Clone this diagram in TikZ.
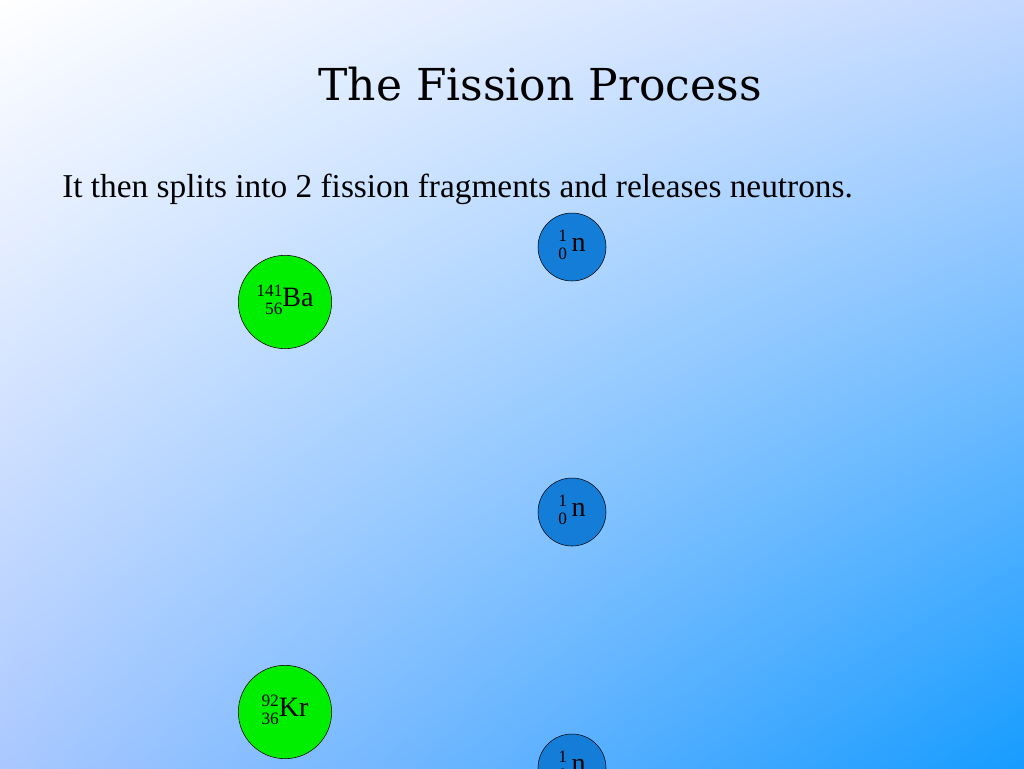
\documentclass[tikz,border=0pt]{standalone}
\usepackage{fontspec}
\setmainfont{Liberation Serif}
\newfontfamily\titlefont{DejaVu Serif}
\usetikzlibrary{shadings}
\definecolor{skyblue}{RGB}{22,156,255}
\definecolor{paleblue}{RGB}{170,200,255}
\definecolor{nblue}{RGB}{20,125,215}
\definecolor{bagreen}{RGB}{0,238,0}
\newcommand{\nuc}[3]{{\fontsize{13}{13}\selectfont\begin{tabular}{@{}r@{}}#1\\[1pt]#2\end{tabular}}#3}
\tikzset{
  nucleus/.style={circle,draw=black,fill=bagreen,minimum size=70pt,inner sep=0pt,font=\fontsize{21}{21}\selectfont},
  neutron/.style={circle,draw=black,fill=nblue,minimum size=51pt,inner sep=0pt,font=\fontsize{21}{21}\selectfont}
}
\begin{document}
\begin{tikzpicture}[x=0.75pt,y=-0.75pt]
\shade[upper left=white,upper right=paleblue!70,lower left=paleblue,lower right=skyblue] (0,0) rectangle (1024,768);
\useasboundingbox (0,0) rectangle (1024,768);
% title and text
\node (title) at (540,84) {\titlefont\fontsize{33}{33}\selectfont The Fission Process};
\node[anchor=north west,text width=668pt,align=justify,inner sep=0pt] (text) at (62,174)
  {\fontsize{25}{39}\selectfont It then splits into 2 fission fragments and releases neutrons.};
% fragments
\node[nucleus] (ba) at (285,302) {\nuc{141}{56}{Ba}};
\node[nucleus] (kr) at (285,712) {\nuc{92}{36}{Kr}};
% neutrons
\node[neutron] (n1) at (572,247) {\nuc{1}{0}{\,n}};
\node[neutron] (n2) at (572,512) {\nuc{1}{0}{\,n}};
\node[neutron] (n3) at (572,768) {\nuc{1}{0}{\,n}};
\end{tikzpicture}
\end{document}
